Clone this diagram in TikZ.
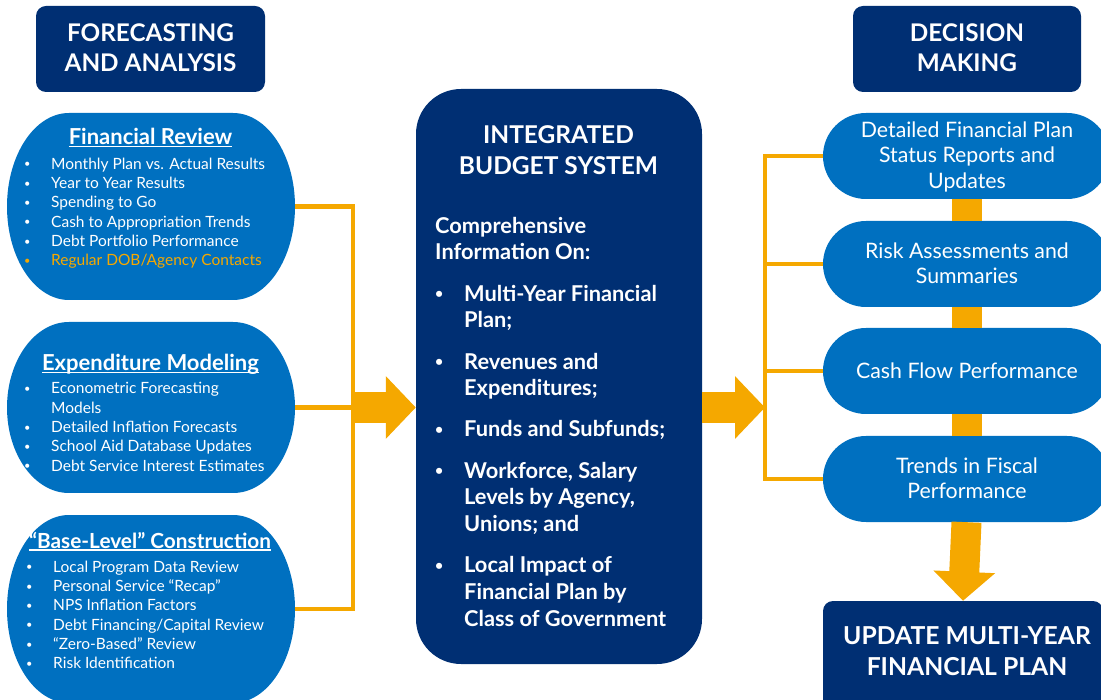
\documentclass[tikz,border=0pt]{standalone}
\usepackage{fontspec}
\setmainfont{Lato}
\usetikzlibrary{arrows.meta}
\definecolor{navy}{RGB}{0,47,115}
\definecolor{lobeblue}{RGB}{0,112,192}
\definecolor{gold}{RGB}{245,168,0}

% font size with leading
\newcommand{\fs}[2]{\fontsize{#1}{#2}\selectfont}
% stacked lines whose baseline is the first line
\newcommand{\lines}[1]{\begin{tabular}[t]{@{}l@{}}#1\end{tabular}}
\newcommand{\clines}[1]{\begin{tabular}[t]{@{}c@{}}#1\end{tabular}}
% small bullet followed by a fixed indent
\newcommand{\bi}[1][27pt]{\makebox[#1][l]{\raisebox{1.4pt}{\fs{11}{11}\textbullet}}}
\newcommand{\bb}{\makebox[29pt][l]{\raisebox{2.6pt}{\fs{14}{14}\textbullet}}}
% underline close to the baseline
\newcommand{\ul}[1]{\setbox0\hbox{#1}\rlap{\rule[-2.3pt]{\wd0}{1.2pt}}\box0}
% lobe: flat top and bottom, half-elliptic ends; x1 y1 x2 y2 rx
\newcommand{\lobe}[5]{%
  \fill[lobeblue] (#1+#5,#2) -- (#3-#5,#2)
    arc[start angle=-90,end angle=90,x radius=#5,y radius={(#4-#2)/2}]
    -- (#1+#5,#4)
    arc[start angle=90,end angle=270,x radius=#5,y radius={(#4-#2)/2}] -- cycle;}

\begin{document}
\begin{tikzpicture}[x=1pt,y=-1pt,
  hdr/.style={fill=navy,rounded corners=10pt,inner sep=0pt},
  hdrtext/.style={text=white,font=\bfseries\fs{24.3}{30},inner sep=0pt,anchor=base},
  area/.style={rectangle,inner sep=0pt},
  ttl/.style={text=white,font=\bfseries\fs{22}{26},inner sep=0pt,anchor=base},
  lst/.style={text=white,font=\fs{15.5}{19.3},inner sep=0pt,anchor=base west},
  pill/.style={fill=lobeblue,rounded corners=43pt,minimum width=287pt,minimum height=86pt,inner sep=0pt},
  pilltext/.style={text=white,font=\fs{21.3}{25.5},inner sep=0pt,anchor=base},
  wire/.style={draw=gold,line width=4.5pt,line join=miter},
  fat/.style={draw=gold,line width=31pt,-{Triangle[length=30pt,width=61pt]}},
  bar/.style={draw=gold,line width=30pt}]
\useasboundingbox (0,0) rectangle (1101,700);
\clip (0,0) rectangle (1101,700);

% column headings
\node[hdr,minimum width=229pt,minimum height=86pt] (fa) at (150.5,49) {};
\node[hdrtext] (fat) at (150.5,41.5) {\clines{FORECASTING\\AND ANALYSIS}};
\node[hdr,minimum width=228pt,minimum height=86pt] (dm) at (967,49) {};
\node[hdrtext] (dmt) at (967,41.5) {\clines{DECISION\\MAKING}};

% left lobes
\lobe{7}{113}{295}{300}{62}
\node[area,minimum width=288pt,minimum height=187pt] (fr) at (151,206.5) {};
\lobe{7}{322}{295}{493}{62}
\node[area,minimum width=288pt,minimum height=171pt] (em) at (151,407.5) {};
\lobe{7}{515}{295}{703}{62}
\node[area,minimum width=288pt,minimum height=188pt] (bl) at (151,609) {};

\node[ttl] (frt) at (150.5,145) {\ul{Financial Review}};
\node[lst] (frl) at (24,169.3) {\lines{\bi Monthly Plan vs. Actual Results\\
  \bi Year to Year Results\\
  \bi Spending to Go\\
  \bi Cash to Appropriation Trends\\
  \bi Debt Portfolio Performance\\
  \textcolor{gold}{\bi Regular DOB/Agency Contacts}}};

\node[ttl] (emt) at (150.5,370.7) {\ul{Expenditure Modeling}};
\node[lst] (eml) at (24,394) {\lines{\bi Econometric Forecasting\\
  \hspace*{27pt}Models\\
  \bi Detailed Inflation Forecasts\\
  \bi School Aid Database Updates\\
  \bi Debt Service Interest Estimates}};

\node[ttl,font=\bfseries\fs{20.8}{26}] (blt) at (150,548.3) {\ul{\textquotedblleft Base-Level\textquotedblright{} Construction}};
\node[lst] (bll) at (26,572.3) {\lines{\bi Local Program Data Review\\
  \bi Personal Service \textquotedblleft Recap\textquotedblright\\
  \bi NPS Inflation Factors\\
  \bi Debt Financing/Capital Review\\
  \bi \textquotedblleft Zero-Based\textquotedblright{} Review\\
  \bi Risk Identification}};

% central system box
\node[fill=navy,rounded corners=45pt,minimum width=286pt,minimum height=575pt,inner sep=0pt] (ibs) at (559,376.5) {};
\node[text=white,font=\bfseries\fs{24.5}{31},inner sep=0pt,anchor=base] (ibst) at (558.5,144) {\clines{INTEGRATED\\BUDGET SYSTEM}};
\node[text=white,font=\bfseries\fs{21.8}{26.7},inner sep=0pt,anchor=base west] (ibsl) at (435,233.3) {\lines{Comprehensive\\Information On:\\[14.5pt]
  \bb Multi-Year Financial\\ \hspace*{29pt}Plan;\\[14.5pt]
  \bb Revenues and\\ \hspace*{29pt}Expenditures;\\[14.5pt]
  \bb Funds and Subfunds;\\[14.5pt]
  \bb Workforce, Salary\\ \hspace*{29pt}Levels by Agency,\\ \hspace*{29pt}Unions; and\\[14.5pt]
  \bb Local Impact of\\ \hspace*{29pt}Financial Plan by\\ \hspace*{29pt}Class of Government}};

% decision-making pills
\node[pill] (r1) at (966.5,156) {};
\node[pilltext] (r1t) at (967,137.3) {\clines{Detailed Financial Plan\\Status Reports and\\Updates}};
\node[pill] (r2) at (966.5,264) {};
\node[pilltext] (r2t) at (967,258.3) {\clines{Risk Assessments and\\Summaries}};
\node[pill] (r3) at (966.5,371) {};
\node[pilltext] (r3t) at (967,378.3) {Cash Flow Performance};
\node[pill] (r4) at (966.5,479) {};
\node[pilltext] (r4t) at (967,473.3) {\clines{Trends in Fiscal\\Performance}};

\node[fill=navy,rounded corners=10pt,minimum width=280pt,minimum height=114pt,inner sep=0pt] (up) at (963,658) {};
\node[text=white,font=\bfseries\fs{24.7}{30.7},inner sep=0pt,anchor=base] (upt) at (967,644.3) {\clines{UPDATE MULTI-YEAR\\FINANCIAL PLAN}};

% connectors
\coordinate (jl) at (353,407.5);
\coordinate (jr) at (765,407.5);
\draw[wire] (fr.east) -| (jl);
\draw[wire] (bl.east) -| (jl);
\draw[wire] (em.east) -- (jl);
\draw[fat] (jl) -- (jl -| ibs.west);
\draw[fat] (ibs.east |- jr) -- (jr);
\draw[wire] (r1.west) -- (r1.west -| jr) -- (r4.west -| jr) -- (r4.west);
\draw[wire] (r2.west) -- (r2.west -| jr);
\draw[wire] (r3.west) -- (r3.west -| jr);
\draw[bar] (r1.south) -- (r2.north);
\draw[bar] (r2.south) -- (r3.north);
\draw[bar] (r3.south) -- (r4.north);
\draw[fat,line width=30pt,-{Triangle[length=29pt,width=60pt]}] (r4.south) -- (up.north);
\end{tikzpicture}
\end{document}
